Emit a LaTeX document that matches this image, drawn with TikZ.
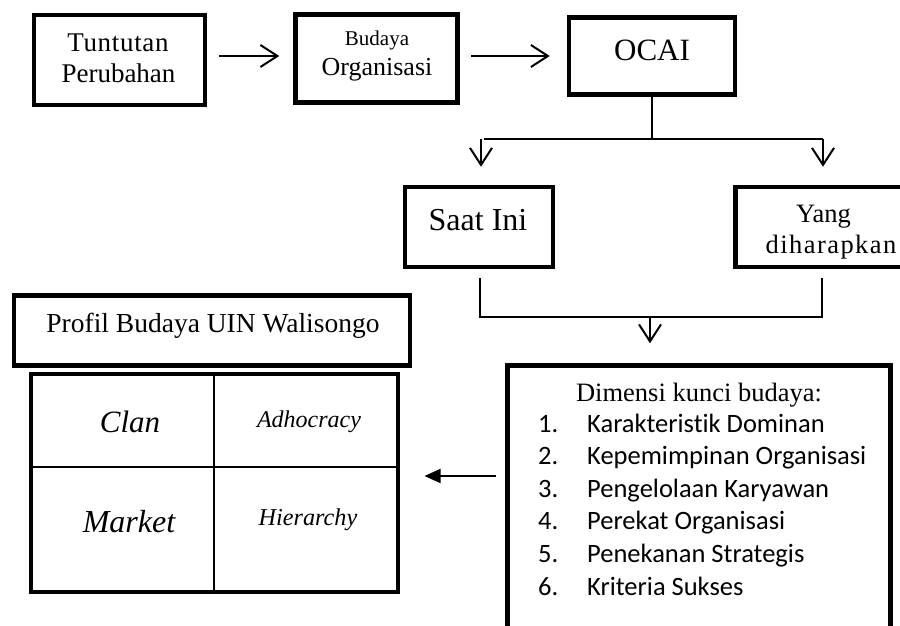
\documentclass[tikz,border=0pt]{standalone}
\usepackage{fontspec}
\setmainfont{Liberation Serif}
\newfontfamily\calib[Ligatures=CommonOff]{Carlito}
\usetikzlibrary{arrows.meta,calc}
\begin{document}
\begin{tikzpicture}[x=1pt,y=-1pt,
  box/.style={draw,line width=4.5pt,inner sep=0pt},
  gridbox/.style={draw,line width=4pt,inner sep=0pt},
  conn/.style={line width=2pt},
  arr/.style={conn,-{Straight Barb[length=17pt,width=22pt]}},
  larr/.style={conn,-{Triangle[length=16pt,width=14pt]}},
  txt/.style={anchor=base,inner sep=0pt},
  listnum/.style={anchor=base west,inner sep=0pt,font=\calib\fontsize{26.5}{30}\selectfont},
  fs/.style={font=\fontsize{#1}{#1}\selectfont}]
\useasboundingbox (0,0) rectangle (900,626);
\clip (0,0) rectangle (900,626);
% boxes
\node[box,minimum width=171pt,minimum height=90pt] (b1) at (119.5,60) {};
\node[box,minimum width=162pt,minimum height=88pt] (b2) at (376.5,58.5) {};
\node[box,minimum width=166pt,minimum height=77pt] (ocai) at (652,56) {};
\node[box,minimum width=148pt,minimum height=80pt] (saat) at (479,227) {};
\node[box,minimum width=190pt,minimum height=80pt] (yang) at (830.5,227) {};
\node[box,minimum width=396pt,minimum height=70pt] (prof) at (212,330.5) {};
\node[gridbox,minimum width=367pt,minimum height=218pt] (grid) at (214.5,483) {};
\node[box,minimum width=383pt,minimum height=295pt] (dim) at (699,513) {};
% grid inner lines
\draw[line width=1.5pt] (214,374) -- (214,592);
\draw[line width=1.5pt] (31,467) -- (398,467);
% texts
\node[txt,fs=27] (t1a) at (118,52) {\addfontfeature{LetterSpace=2.5}Tuntutan};
\node[txt,fs=27] (t1b) at (118.5,82) {Perubahan};
\node[txt,fs=21] (t2a) at (377,46) {Budaya};
\node[txt,fs=26] (t2b) at (377,76) {Organisasi};
\node[txt,fs=31] (t3) at (652,60) {OCAI};
\node[txt,fs=32] (t4) at (478,230) {Saat Ini};
\node[txt,fs=26.5] (t5a) at (823.5,222) {Yang};
\node[txt,fs=26.5] (t5b) at (831,253) {\addfontfeature{LetterSpace=5.5}diharapkan};
\node[txt,fs=27.5] (t6) at (213,332) {Profil Budaya UIN Walisongo};
\node[txt,fs=31] (tc) at (130,432) {\itshape Clan};
\node[txt,fs=24] (ta) at (309,427) {\itshape Adhocracy};
\node[txt,fs=32] (tm) at (129,532) {\itshape Market};
\node[txt,fs=24.2] (th) at (308,525) {\itshape Hierarchy};
\node[txt,fs=26.5] (td) at (699,401) {Dimensi kunci budaya:};
\foreach \n/\t [count=\i] in {1/Karakteristik Dominan,2/Kepemimpinan Organisasi,3/Pengelolaan Karyawan,4/Perekat Organisasi,5/Penekanan Strategis,6/Kriteria Sukses}{
  \node[listnum] (n\i) at (538,{432+(\i-1)*32.6}) {\n.};
  \node[listnum] (l\i) at (587,{432+(\i-1)*32.6}) {\t};
}
% connectors
\draw[arr] ($(b1.east)+(12,-4)$) -- ($(b2.west)+(-14,-2.5)$);
\draw[arr] ($(b2.east)+(11,-2.5)$) -- ($(ocai.west)+(-17,0)$);
\coordinate (jl) at (481,139);
\coordinate (jr) at (823,139);
\draw[conn] (ocai.south) -- (ocai.south |- jl);
\draw[conn] (484,139) -- (jr);
\draw[arr,shorten >=-1pt] (jl) -- ($(jl |- saat.north)+(0,-19)$);
\draw[arr,shorten >=-1pt] (jr) -- ($(jr |- yang.north)+(0,-19)$);
\coordinate (kl) at (480,317);
\coordinate (kr) at (822,317);
\draw[conn] ($(saat.south)+(1,9)$) -- (kl) -- (kr) -- ($(kr |- yang.south)+(0,9)$);
\draw[arr] (650,317) -- ($(dim.north -| 650,0)+(0,-20)$);
\draw[larr] ($(dim.west)+(-9.5,-37)$) -- ($(grid.east)+(24.5,-7)$);
\end{tikzpicture}
\end{document}
